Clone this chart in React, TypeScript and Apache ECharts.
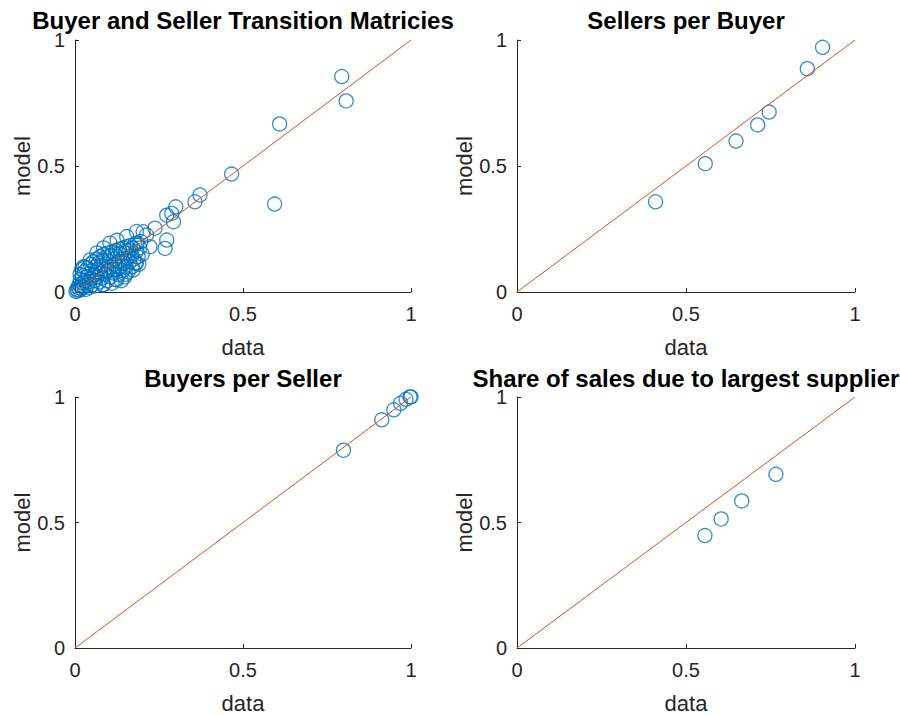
import React, { useEffect, useRef } from "react";
import * as echarts from "echarts";

const tickValues = [0, 0.5, 1];
const panelTitles = [
  "Buyer and Seller Transition Matricies",
  "Sellers per Buyer",
  "Buyers per Seller",
  "Share of sales due to largest supplier",
];
const xAxisName = "data";
const yAxisName = "model";

const transitionPoints: number[][] = [
  [0.003, 0.002], [0.006, 0.010], [0.008, 0.004], [0.010, 0.018], [0.012, 0.030], [0.014, 0.008],
  [0.016, 0.050], [0.018, 0.022], [0.020, 0.012], [0.022, 0.065], [0.024, 0.035], [0.026, 0.020],
  [0.028, 0.080], [0.030, 0.045], [0.032, 0.010], [0.035, 0.060], [0.036, 0.028], [0.038, 0.095],
  [0.040, 0.070], [0.042, 0.040], [0.044, 0.018], [0.046, 0.110], [0.048, 0.055], [0.050, 0.085],
  [0.052, 0.030], [0.054, 0.120], [0.056, 0.070], [0.058, 0.045], [0.060, 0.100], [0.062, 0.025],
  [0.064, 0.130], [0.066, 0.060], [0.068, 0.090], [0.070, 0.115], [0.072, 0.040], [0.074, 0.140],
  [0.076, 0.075], [0.078, 0.105], [0.080, 0.055], [0.082, 0.125], [0.084, 0.030], [0.086, 0.150],
  [0.088, 0.090], [0.090, 0.070], [0.092, 0.135], [0.094, 0.110], [0.096, 0.045], [0.098, 0.155],
  [0.100, 0.085], [0.102, 0.120], [0.104, 0.060], [0.106, 0.145], [0.108, 0.100], [0.110, 0.035],
  [0.112, 0.160], [0.114, 0.075], [0.116, 0.130], [0.118, 0.110], [0.120, 0.050], [0.122, 0.165],
  [0.124, 0.090], [0.126, 0.140], [0.128, 0.120], [0.130, 0.070], [0.132, 0.170], [0.134, 0.100],
  [0.136, 0.150], [0.138, 0.045], [0.140, 0.130], [0.142, 0.085], [0.144, 0.175], [0.146, 0.115],
  [0.148, 0.060], [0.150, 0.155], [0.152, 0.100], [0.154, 0.180], [0.156, 0.135], [0.158, 0.080],
  [0.160, 0.165], [0.162, 0.120], [0.165, 0.185], [0.168, 0.145], [0.170, 0.100], [0.172, 0.175],
  [0.175, 0.130], [0.178, 0.190], [0.180, 0.115], [0.182, 0.160], [0.185, 0.195], [0.188, 0.140],
  [0.190, 0.110], [0.193, 0.175], [0.196, 0.200], [0.200, 0.150], [0.015, 0.070], [0.020, 0.090],
  [0.025, 0.100], [0.030, 0.100], [0.045, 0.127], [0.065, 0.155], [0.085, 0.175], [0.104, 0.194],
  [0.125, 0.205], [0.154, 0.220], [0.183, 0.240], [0.084, 0.028], [0.124, 0.048], [0.150, 0.070],
  [0.173, 0.087], [0.183, 0.115], [0.203, 0.239], [0.213, 0.226], [0.223, 0.180], [0.238, 0.253],
  [0.268, 0.173], [0.273, 0.206], [0.273, 0.305], [0.288, 0.312], [0.293, 0.279], [0.300, 0.338],
  [0.357, 0.358], [0.372, 0.385], [0.466, 0.468], [0.594, 0.349], [0.609, 0.667], [0.794, 0.855],
  [0.807, 0.758],
];

const sellersPerBuyer: number[][] = [
  [0.410, 0.358], [0.557, 0.509], [0.648, 0.599], [0.712, 0.663], [0.746, 0.714], [0.859, 0.886], [0.904, 0.971],
];

const buyersPerSeller: number[][] = [
  [0.799, 0.788], [0.913, 0.909], [0.949, 0.949], [0.969, 0.975], [0.985, 0.991], [0.997, 1.0], [1.0, 1.0],
];

const largestSupplierShare: number[][] = [
  [0.556, 0.448], [0.604, 0.514], [0.665, 0.586], [0.766, 0.692],
];

const diagonal: number[][] = [[0, 0], [1, 1]];

const panelData = [transitionPoints, sellersPerBuyer, buyersPerSeller, largestSupplierShare];

const FONT = '"Liberation Sans", Arial, Helvetica, sans-serif';
const AXIS_COLOR = "#262626";
const MARKER_COLOR = "#0072BD";
const LINE_COLOR = "#D95319";

export default function App() {
  const ref = useRef<HTMLDivElement>(null);
  useEffect(() => {
    if (!ref.current) return;
    const chart = echarts.init(ref.current, null, { renderer: "svg" });
    const grids = [
      { left: 75, top: 40, width: 336, height: 252 },
      { left: 517, top: 40, width: 338, height: 252 },
      { left: 75, top: 397, width: 336, height: 253 },
      { left: 517, top: 397, width: 338, height: 253 },
    ];
    const titleY = [20, 20, 378, 378];
    const axisCommon = {
      min: 0,
      max: 1,
      interval: 0.5,
      axisLine: { show: true, lineStyle: { color: AXIS_COLOR, width: 1 } },
      axisTick: { show: true, inside: true, length: 4, lineStyle: { color: AXIS_COLOR } },
      splitLine: { show: false },
      nameLocation: "middle" as const,
      nameTextStyle: { color: AXIS_COLOR, fontSize: 22, fontFamily: FONT },
    };
    const option: any = {
      animation: false,
      backgroundColor: "#ffffff",
      grid: grids.map((g) => ({ ...g, containLabel: false })),
      xAxis: grids.map((_, i) => ({
        ...axisCommon,
        type: "value",
        gridIndex: i,
        name: xAxisName,
        nameGap: 44,
        axisLabel: {
          color: AXIS_COLOR,
          fontSize: 20,
          fontFamily: FONT,
          margin: 12,
          formatter: (v: number) => (tickValues.includes(v) ? String(v) : ""),
        },
      })),
      yAxis: grids.map((_, i) => ({
        ...axisCommon,
        type: "value",
        gridIndex: i,
        name: yAxisName,
        nameGap: 38,
        axisLabel: {
          color: AXIS_COLOR,
          fontSize: 20,
          fontFamily: FONT,
          margin: 10,
          formatter: (v: number) => (tickValues.includes(v) ? String(v) : ""),
        },
      })),
      series: [
        ...panelData.map((d, i) => ({
          type: "line",
          xAxisIndex: i,
          yAxisIndex: i,
          data: diagonal,
          showSymbol: false,
          symbol: "none",
          lineStyle: { color: LINE_COLOR, width: 1 },
          z: 3,
          silent: true,
        })),
        ...panelData.map((d, i) => ({
          type: "scatter",
          xAxisIndex: i,
          yAxisIndex: i,
          data: d,
          symbol: "circle",
          symbolSize: 14,
          itemStyle: { color: "rgba(0,0,0,0)", borderColor: MARKER_COLOR, borderWidth: 1.3 },
          z: 2,
          silent: true,
        })),
      ],
      graphic: panelTitles.map((t, i) => ({
        type: "text",
        x: grids[i].left + grids[i].width / 2,
        y: titleY[i],
        style: {
          text: t,
          fill: "#000",
          fontSize: 24,
          fontWeight: "bold",
          fontFamily: FONT,
          textAlign: "center",
          textVerticalAlign: "middle",
        },
      })),
    };
    chart.setOption(option);
    return () => chart.dispose();
  }, []);
  return (
    <div
      ref={ref}
      style={{ position: "absolute", left: 0, top: 0, width: 900, height: 715 }}
    />
  );
}
